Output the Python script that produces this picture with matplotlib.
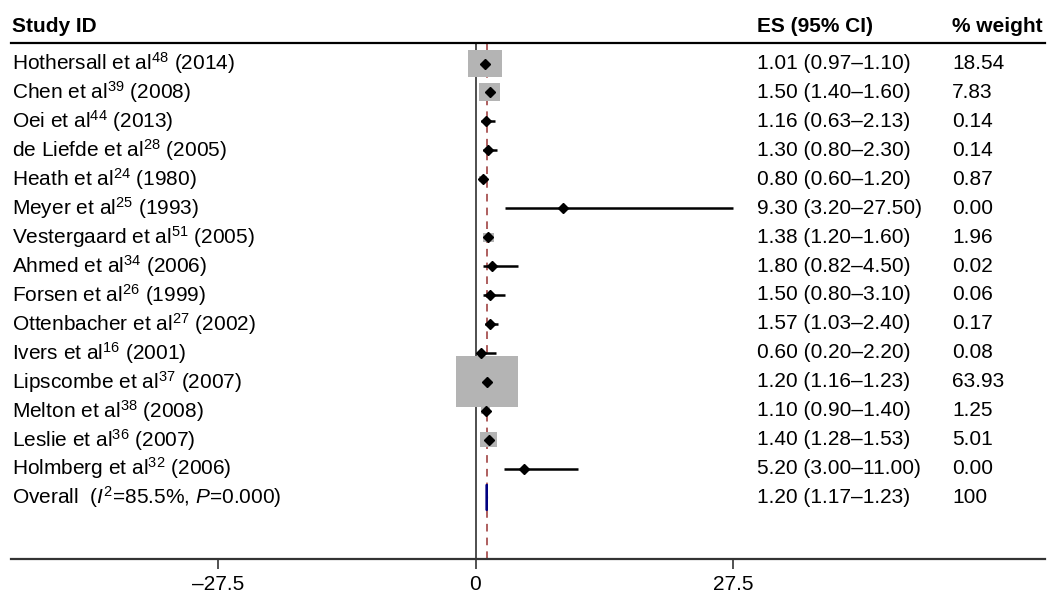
import numpy as np
import matplotlib
matplotlib.use("Agg")
import matplotlib.pyplot as plt
from matplotlib.patches import Rectangle, Polygon
from matplotlib.transforms import blended_transform_factory

plt.rcParams['font.family'] = ['Liberation Sans', 'DejaVu Sans']
plt.rcParams['mathtext.fontset'] = 'custom'
plt.rcParams['mathtext.rm'] = 'Liberation Sans'
plt.rcParams['mathtext.it'] = 'Liberation Sans:italic'
plt.rcParams['mathtext.bf'] = 'Liberation Sans:bold'

# data
authors = ["Hothersall et al", "Chen et al", "Oei et al", "de Liefde et al", "Heath et al",
           "Meyer et al", "Vestergaard et al", "Ahmed et al", "Forsen et al", "Ottenbacher et al",
           "Ivers et al", "Lipscombe et al", "Melton et al", "Leslie et al", "Holmberg et al"]
refs = [48, 39, 44, 28, 24, 25, 51, 34, 26, 27, 16, 37, 38, 36, 32]
years = [2014, 2008, 2013, 2005, 1980, 1993, 2005, 2006, 1999, 2002, 2001, 2007, 2008, 2007, 2006]
es = [1.01, 1.50, 1.16, 1.30, 0.80, 9.30, 1.38, 1.80, 1.50, 1.57, 0.60, 1.20, 1.10, 1.40, 5.20]
lo = [0.97, 1.40, 0.63, 0.80, 0.60, 3.20, 1.20, 0.82, 0.80, 1.03, 0.20, 1.16, 0.90, 1.28, 3.00]
hi = [1.10, 1.60, 2.13, 2.30, 1.20, 27.50, 1.60, 4.50, 3.10, 2.40, 2.20, 1.23, 1.40, 1.53, 11.00]
weight = [18.54, 7.83, 0.14, 0.14, 0.87, 0.00, 1.96, 0.02, 0.06, 0.17, 0.08, 63.93, 1.25, 5.01, 0.00]
overall_es, overall_lo, overall_hi = 1.20, 1.17, 1.23
overall_label = "Overall  ($I^2$=85.5%, $P$=0.000)"
xticks = [-27.5, 0, 27.5]
xticklabels = ["\u201327.5", "0", "27.5"]

W, H = 1047, 597
fig = plt.figure(figsize=(W / 100, H / 100), dpi=100)
ax = fig.add_axes([11 / W, (H - 559) / H, (1045 - 11) / W, (559 - 43) / H])

pxu = 9.36        # pixels per x unit
rowpx = 28.93     # pixels per row
ax.set_xlim((11 - 475.5) / pxu, (1045 - 475.5) / pxu)
ax.set_ylim((559 - 63.5) / rowpx, (43 - 63.5) / rowpx)

n = len(es)
rows = np.arange(n)

# reference lines
ax.axvline(0, color='#404040', lw=1.3, zorder=1)
ax.axvline(overall_es, color='#993333', lw=1.1, ls=(0, (5, 4)), zorder=1)

# weight boxes
for i in rows:
    wpx = 7.8 * np.sqrt(weight[i])
    bw = wpx / pxu
    bh = (wpx / 1.22) / rowpx
    ax.add_patch(Rectangle((es[i] - bw / 2, i - bh / 2), bw, bh,
                           facecolor='#b4b4b4', edgecolor='none', zorder=2))

# CIs and point estimates
ax.hlines(rows, lo, hi, color='black', lw=1.8, zorder=3)
ax.plot(es, rows, 'D', color='black', ms=5, zorder=4)

# overall diamond
yo = n
ax.add_patch(Polygon([(overall_lo, yo), (overall_es, yo - 0.45),
                      (overall_hi, yo), (overall_es, yo + 0.45)],
                     closed=True, facecolor='#000080', edgecolor='#000080', lw=1.5, zorder=4))

# text columns
tr = blended_transform_factory(fig.transFigure, ax.transData)
fs = 15
x_id, x_es, x_w = 12 / W, 757 / W, 952 / W
y_head = (26 - 63.5) / rowpx
ax.text(x_id, y_head, "Study ID", transform=tr, fontsize=fs, fontweight='bold', va='center')
ax.text(x_es, y_head, "ES (95% CI)", transform=tr, fontsize=fs, fontweight='bold', va='center')
ax.text(x_w, y_head, "% weight", transform=tr, fontsize=fs, fontweight='bold', va='center')

for i in rows:
    ax.text(x_id, i, f"{authors[i]}$^{{{refs[i]}}}$ ({years[i]})", transform=tr,
            fontsize=fs, va='center')
    ax.text(x_es, i, f"{es[i]:.2f} ({lo[i]:.2f}\u2013{hi[i]:.2f})", transform=tr,
            fontsize=fs, va='center')
    ax.text(x_w, i, f"{weight[i]:.2f}", transform=tr, fontsize=fs, va='center')

ax.text(x_id, yo, overall_label, transform=tr, fontsize=fs, va='center')
ax.text(x_es, yo, f"{overall_es:.2f} ({overall_lo:.2f}\u2013{overall_hi:.2f})",
        transform=tr, fontsize=fs, va='center')
ax.text(x_w, yo, "100", transform=tr, fontsize=fs, va='center')

# axes styling
for s in ['left', 'right']:
    ax.spines[s].set_visible(False)
ax.spines['top'].set_color('black')
ax.spines['top'].set_linewidth(1.6)
ax.spines['bottom'].set_color('#333333')
ax.spines['bottom'].set_linewidth(1.6)
ax.set_yticks([])
ax.set_xticks(xticks)
ax.set_xticklabels(xticklabels, fontsize=fs)
ax.tick_params(axis='x', direction='out', length=7.5, width=1.2, color='#333333', pad=4)

fig.savefig("out.png", dpi=100)
